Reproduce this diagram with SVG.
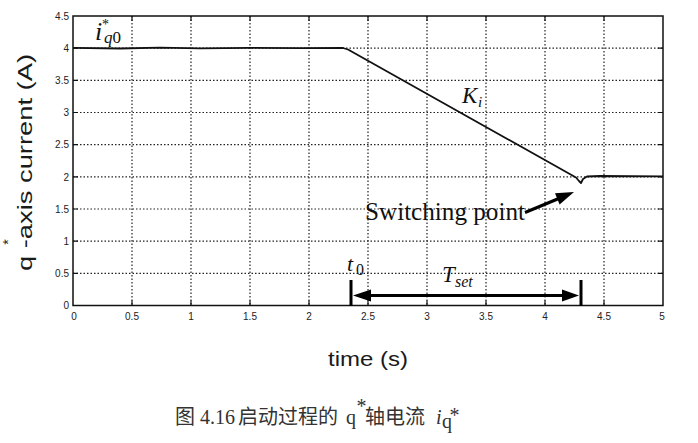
<svg xmlns="http://www.w3.org/2000/svg" width="698" height="443" viewBox="0 0 698 443">
<style>
.grid{stroke:#222;stroke-width:1.2;stroke-dasharray:1.5 2;fill:none}
.tick{stroke:#111;stroke-width:1.2}
.tl{font-family:"Liberation Sans",Arial,sans-serif;font-size:10px;fill:#222}
.ax{font-family:"Liberation Sans",Arial,sans-serif;font-size:21px;fill:#1a1a1a}
.m{font-family:"Liberation Serif","Times New Roman",serif;font-style:italic;fill:#111}
.mu{font-family:"Liberation Serif","Times New Roman",serif;fill:#111}
.cap{font-family:"Liberation Serif","Noto Sans CJK SC",serif;font-size:20px;fill:#333}
</style>
<rect width="698" height="443" fill="#fff"/>
<g id="grid">
<path class="grid" d="M132,16V305.5M191,16V305.5M250,16V305.5M309,16V305.5M368,16V305.5M427,16V305.5M486,16V305.5M545,16V305.5M604,16V305.5"/>
<path class="grid" d="M73,273.3H663M73,241.2H663M73,209H663M73,176.8H663M73,144.7H663M73,112.5H663M73,80.3H663M73,48.2H663"/>
</g>
<g id="axes">
<rect x="73" y="16" width="590" height="289.5" fill="none" stroke="#111" stroke-width="1.5"/>
<path class="tick" d="M73,273.3h5M73,241.2h5M73,209h5M73,176.8h5M73,144.7h5M73,112.5h5M73,80.3h5M73,48.2h5M663,273.3h-5M663,241.2h-5M663,209h-5M663,176.8h-5M663,144.7h-5M663,112.5h-5M663,80.3h-5M663,48.2h-5M132,305.5v-5M191,305.5v-5M250,305.5v-5M309,305.5v-5M368,305.5v-5M427,305.5v-5M486,305.5v-5M545,305.5v-5M604,305.5v-5M132,16v5M191,16v5M250,16v5M309,16v5M368,16v5M427,16v5M486,16v5M545,16v5M604,16v5"/>
<g class="tl" text-anchor="end">
<text x="69" y="309">0</text>
<text x="69" y="277">0.5</text>
<text x="69" y="245">1</text>
<text x="69" y="212.5">1.5</text>
<text x="69" y="180.5">2</text>
<text x="69" y="148">2.5</text>
<text x="69" y="116">3</text>
<text x="69" y="84">3.5</text>
<text x="69" y="52">4</text>
<text x="69" y="19.5">4.5</text>
</g>
<g class="tl" text-anchor="middle">
<text x="74" y="320">0</text>
<text x="132" y="320">0.5</text>
<text x="191" y="320">1</text>
<text x="250" y="320">1.5</text>
<text x="309" y="320">2</text>
<text x="368" y="320">2.5</text>
<text x="427" y="320">3</text>
<text x="486" y="320">3.5</text>
<text x="545" y="320">4</text>
<text x="604" y="320">4.5</text>
<text x="662" y="320">5</text>
</g>
<text class="ax" x="368" y="366" text-anchor="middle" textLength="80" lengthAdjust="spacingAndGlyphs">time (s)</text>
<text class="ax" transform="translate(32,162.5) rotate(-90)" text-anchor="middle" textLength="217" lengthAdjust="spacingAndGlyphs">q -axis current (A)</text>
<text class="ax" transform="translate(13,242) rotate(-90)" text-anchor="middle" style="font-size:14px">*</text>
</g>
<g id="curve">
<path d="M73,47.8L120,48.5L160,47.6L200,48.3L250,47.8L300,48.2L343,48L348,49.5L576,177.5L579,181L581,183L583,179L587,176.5L600,176L663,176.3" fill="none" stroke="#111" stroke-width="1.8" stroke-linejoin="round"/>
</g>
<g id="labels">
<text class="m" x="95" y="40" font-size="26">i</text>
<text class="mu" x="102" y="29" font-size="14">*</text>
<text class="m" x="104" y="43" font-size="17">q<tspan font-style="normal">0</tspan></text>
<text class="m" x="462" y="103" font-size="23">K</text>
<text class="m" x="478" y="107" font-size="15">i</text>
<text class="m" x="347" y="271" font-size="22">t</text>
<text class="mu" x="356" y="275" font-size="16">0</text>
<text class="m" x="442" y="282" font-size="23">T</text>
<text class="m" x="455" y="287" font-size="16">set</text>
<text class="mu" x="365" y="220" font-size="25" textLength="160" lengthAdjust="spacingAndGlyphs">Switching point</text>
</g>
<g id="connectors">
<line x1="525" y1="212.5" x2="560" y2="198" stroke="#000" stroke-width="3"/>
<polygon points="574,192 559.6,204.4 555,193.2" fill="#000"/>
<path d="M351,280V306M581,280V306" stroke="#000" stroke-width="3"/>
<line x1="365" y1="295.5" x2="568" y2="295.5" stroke="#000" stroke-width="3"/>
<polygon points="353,295.5 371,289.5 371,301.5" fill="#000"/>
<polygon points="579,295.5 562,289.5 562,301.5" fill="#000"/>
</g>
<g id="caption">
<text class="cap" y="424"><tspan x="175">图</tspan><tspan x="200">4.16</tspan><tspan x="238">启动过程的</tspan><tspan x="346">q</tspan></text>
<text class="cap" x="356.5" y="413" font-size="12">*</text>
<text class="cap" x="365" y="424">轴电流</text>
<text class="cap" x="436" y="424" font-style="italic">i</text>
<text class="cap" x="442" y="428" font-size="13">q</text>
<text class="cap" x="449.5" y="422" font-size="10">*</text>
</g>
</svg>
